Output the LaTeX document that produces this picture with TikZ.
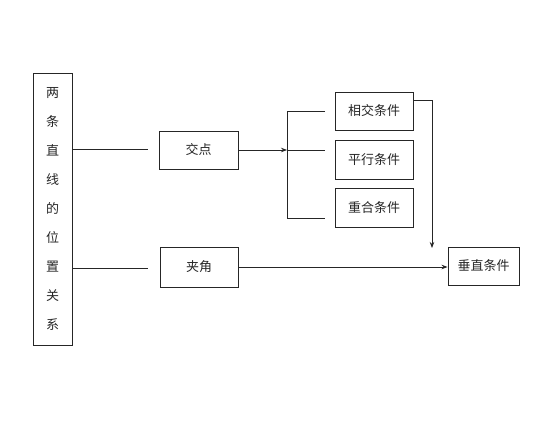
\documentclass[tikz,border=0pt]{standalone}
\usepackage{fontspec}
\newfontfamily\cjk{Noto Sans CJK SC}
\usetikzlibrary{arrows.meta}
\begin{document}
\begin{tikzpicture}[x=1pt,y=-1pt,
  box/.style={draw=black!85,line width=0.9pt,inner sep=0pt,font=\cjk\fontsize{13}{14}\selectfont,text=black!85},
  ln/.style={draw=black!85,line width=0.8pt},
  arr/.style={ln,-{Stealth[length=6pt,width=4.5pt]}}]
\useasboundingbox (0,0) rectangle (536,428);
\node[box,minimum width=39pt,minimum height=272pt,align=center,
  font=\cjk\fontsize{13}{29.1}\selectfont] (L) at (52.5,209)
  {两\\条\\直\\线\\的\\位\\置\\关\\系};
\node[box,minimum width=79pt,minimum height=38pt] (jd) at (198.5,150) {交点};
\node[box,minimum width=78pt,minimum height=40pt] (jj) at (199,267) {夹角};
\node[box,minimum width=78pt,minimum height=38pt] (xj) at (374,111) {相交条件};
\node[box,minimum width=78pt,minimum height=39pt] (px) at (374,159.5) {平行条件};
\node[box,minimum width=78pt,minimum height=39pt] (ch) at (374,207.5) {重合条件};
\node[box,minimum width=71pt,minimum height=38pt] (cz) at (483.5,266) {垂直条件};
\coordinate (a1) at (148,149);
\coordinate (a2) at (148,268);
\coordinate (J) at (287,150);
\coordinate (t) at (287,111);
\coordinate (b) at (287,218);
\coordinate (e1) at (325,111);
\coordinate (e2) at (325,150);
\coordinate (e3) at (325,218);
\coordinate (d) at (432,248);
\draw[ln] (L.east |- a1) -- (a1);
\draw[ln] (L.east |- a2) -- (a2);
\draw[arr] (jd.east) -- (J);
\draw[ln] (e1) -- (t) -- (b) -- (e3);
\draw[ln] (J) -- (e2);
\draw[arr] ([yshift=11pt]xj.east) -| (d);
\draw[arr] (jj.east) -- (cz.west |- jj.east);
\end{tikzpicture}
\end{document}
